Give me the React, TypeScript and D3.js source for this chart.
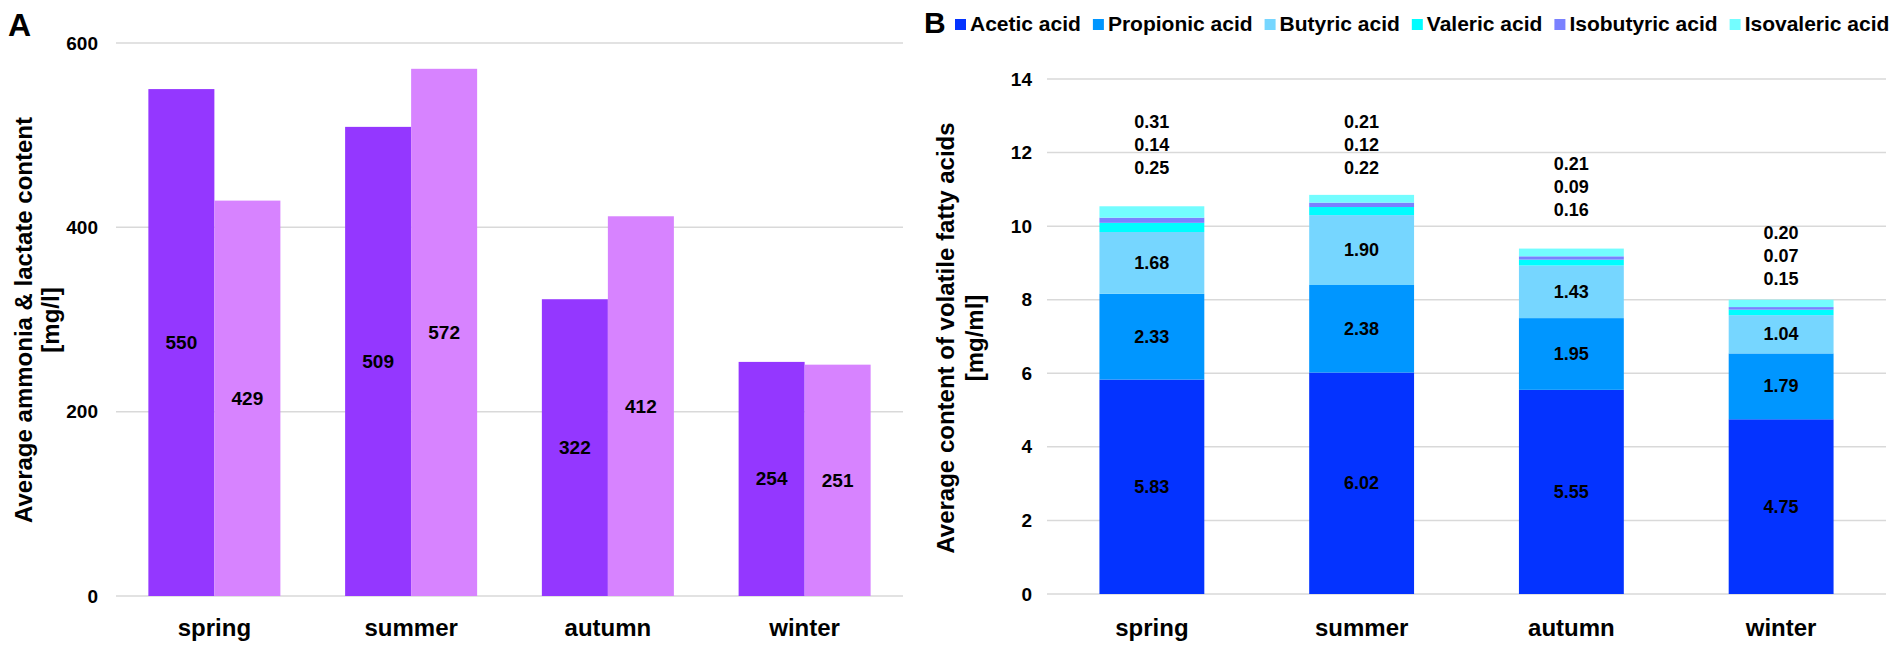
import { useEffect, useRef } from "react";
import * as d3 from "d3";

const seasons = ["spring", "summer", "autumn", "winter"];

// Panel A
const ammonia = [550, 509, 322, 254];
const lactate = [429, 572, 412, 251];
const ticksA = [0, 200, 400, 600];

// Panel B
const acidNames = [
  "Acetic acid",
  "Propionic acid",
  "Butyric acid",
  "Valeric acid",
  "Isobutyric acid",
  "Isovaleric acid",
];
const acetic = [5.83, 6.02, 5.55, 4.75];
const propionic = [2.33, 2.38, 1.95, 1.79];
const butyric = [1.68, 1.9, 1.43, 1.04];
const valeric = [0.25, 0.22, 0.16, 0.15];
const isobutyric = [0.14, 0.12, 0.09, 0.07];
const isovaleric = [0.31, 0.21, 0.21, 0.2];
const ticksB = [0, 2, 4, 6, 8, 10, 12, 14];
// where the small-acid label stack sits (value units, bottom line)
const smallLabelAt = [11.58, 11.58, 10.44, 8.56];

const W = 1901;
const H = 646;
const FONT = "'Liberation Sans', Arial, Helvetica, sans-serif";
const GRID = "#D9D9D9";
const purple = ["#9437FF", "#D783FF"];
const acidColors = ["#0433FF", "#0096FF", "#76D6FF", "#00FDFF", "#7A81FF", "#73FDFF"];

export default function App() {
  const svgRef = useRef<SVGSVGElement>(null);

  useEffect(() => {
    if (!svgRef.current) return;
    const svg = d3.select(svgRef.current);
    svg.selectAll("*").remove();
    svg.style("font-family", FONT).style("font-weight", "bold");

    // ---------- Panel A ----------
    const xA = d3.scaleBand<string>().domain(seasons).range([116, 903]).paddingInner(0.329).paddingOuter(0.1645);
    const subA = d3.scaleBand<number>().domain([0, 1]).range([0, xA.bandwidth()]);
    const yA = d3.scaleLinear().domain([0, 600]).range([596, 43]);

    const gA = svg.append("g");
    gA.selectAll("line.grid")
      .data(ticksA)
      .join("line")
      .attr("x1", 116)
      .attr("x2", 903)
      .attr("y1", (d) => yA(d))
      .attr("y2", (d) => yA(d))
      .attr("stroke", GRID)
      .attr("stroke-width", 1.5);
    gA.selectAll("text.tick")
      .data(ticksA)
      .join("text")
      .attr("x", 98)
      .attr("y", (d) => yA(d))
      .attr("text-anchor", "end")
      .attr("dominant-baseline", "central")
      .style("font-size", "19px")
      .text((d) => d);

    const pairs = seasons.map((s, i) => ({ s, v: [ammonia[i], lactate[i]] }));
    pairs.forEach((p) => {
      p.v.forEach((v, j) => {
        const x = (xA(p.s) as number) + (subA(j) as number);
        gA.append("rect")
          .attr("x", x)
          .attr("y", yA(v))
          .attr("width", subA.bandwidth())
          .attr("height", yA(0) - yA(v))
          .attr("fill", purple[j]);
        gA.append("text")
          .attr("x", x + subA.bandwidth() / 2)
          .attr("y", (yA(v) + yA(0)) / 2)
          .attr("text-anchor", "middle")
          .attr("dominant-baseline", "central")
          .style("font-size", "19px")
          .text(v);
      });
    });

    gA.selectAll("text.cat")
      .data(seasons)
      .join("text")
      .attr("x", (d) => (xA(d) as number) + xA.bandwidth() / 2)
      .attr("y", 636)
      .attr("text-anchor", "middle")
      .style("font-size", "24px")
      .text((d) => d);

    const titleA = gA.append("text")
      .attr("transform", `translate(24,320) rotate(-90)`)
      .attr("text-anchor", "middle")
      .style("font-size", "24px");
    titleA.append("tspan").attr("x", 0).attr("dy", "0.35em").text("Average ammonia & lactate content");
    titleA.append("tspan").attr("x", 0).attr("dy", "1.1em").text("[mg/l]");

    gA.append("text").attr("x", 8).attr("y", 36).style("font-size", "32px").text("A");

    // ---------- Panel B ----------
    const xB = d3.scaleBand<string>().domain(seasons).range([1047, 1886]).paddingInner(0.5).paddingOuter(0.25);
    const yB = d3.scaleLinear().domain([0, 14]).range([594, 79]);
    const gB = svg.append("g");

    gB.selectAll("line.grid")
      .data(ticksB)
      .join("line")
      .attr("x1", 1047)
      .attr("x2", 1886)
      .attr("y1", (d) => yB(d))
      .attr("y2", (d) => yB(d))
      .attr("stroke", GRID)
      .attr("stroke-width", 1.5);
    gB.selectAll("text.tick")
      .data(ticksB)
      .join("text")
      .attr("x", 1032)
      .attr("y", (d) => yB(d))
      .attr("text-anchor", "end")
      .attr("dominant-baseline", "central")
      .style("font-size", "19px")
      .text((d) => d);

    const series = [acetic, propionic, butyric, valeric, isobutyric, isovaleric];
    const rows = seasons.map((s, i) => {
      const r: Record<string, number | string> = { season: s };
      acidNames.forEach((n, k) => (r[n] = series[k][i]));
      return r;
    });
    const stacked = d3.stack<Record<string, number | string>>().keys(acidNames)(rows);

    stacked.forEach((layer, k) => {
      gB.selectAll(`rect.l${k}`)
        .data(layer)
        .join("rect")
        .attr("x", (d) => xB(d.data.season as string) as number)
        .attr("y", (d) => yB(d[1]))
        .attr("width", xB.bandwidth())
        .attr("height", (d) => yB(d[0]) - yB(d[1]))
        .attr("fill", acidColors[k]);
      if (k < 3) {
        gB.selectAll(`text.l${k}`)
          .data(layer)
          .join("text")
          .attr("x", (d) => (xB(d.data.season as string) as number) + xB.bandwidth() / 2)
          .attr("y", (d) => yB((d[0] + d[1]) / 2))
          .attr("text-anchor", "middle")
          .attr("dominant-baseline", "central")
          .style("font-size", "18px")
          .text((d) => (d[1] - d[0]).toFixed(2));
      }
    });

    // small acid labels stacked above each bar: isovaleric, isobutyric, valeric
    seasons.forEach((s, i) => {
      const cx = (xB(s) as number) + xB.bandwidth() / 2;
      const base = yB(smallLabelAt[i]);
      [isovaleric[i], isobutyric[i], valeric[i]].forEach((v, j) => {
        gB.append("text")
          .attr("x", cx)
          .attr("y", base - (2 - j) * 23)
          .attr("text-anchor", "middle")
          .attr("dominant-baseline", "central")
          .style("font-size", "18px")
          .text(v.toFixed(2));
      });
    });

    gB.selectAll("text.cat")
      .data(seasons)
      .join("text")
      .attr("x", (d) => (xB(d) as number) + xB.bandwidth() / 2)
      .attr("y", 636)
      .attr("text-anchor", "middle")
      .style("font-size", "24px")
      .text((d) => d);

    const titleB = gB.append("text")
      .attr("transform", `translate(946,338) rotate(-90)`)
      .attr("text-anchor", "middle")
      .style("font-size", "24px");
    titleB.append("tspan").attr("x", 0).attr("dy", "0.35em").text("Average content of volatile fatty acids");
    titleB.append("tspan").attr("x", 0).attr("dy", "1.2em").text("[mg/ml]");

    gB.append("text").attr("x", 924).attr("y", 33).style("font-size", "30px").text("B");

    // legend
    let lx = 955;
    acidNames.forEach((n, k) => {
      gB.append("rect").attr("x", lx).attr("y", 19).attr("width", 11).attr("height", 11).attr("fill", acidColors[k]);
      const t = gB.append("text")
        .attr("x", lx + 15)
        .attr("y", 31)
        .style("font-size", "21px")
        .text(n);
      const w = (t.node() as SVGTextElement).getComputedTextLength();
      lx += 15 + w + 12;
    });
  }, []);

  return (
    <svg
      ref={svgRef}
      width={W}
      height={H}
      viewBox={`0 0 ${W} ${H}`}
      style={{ position: "absolute", left: 0, top: 0, background: "#fff" }}
    />
  );
}
